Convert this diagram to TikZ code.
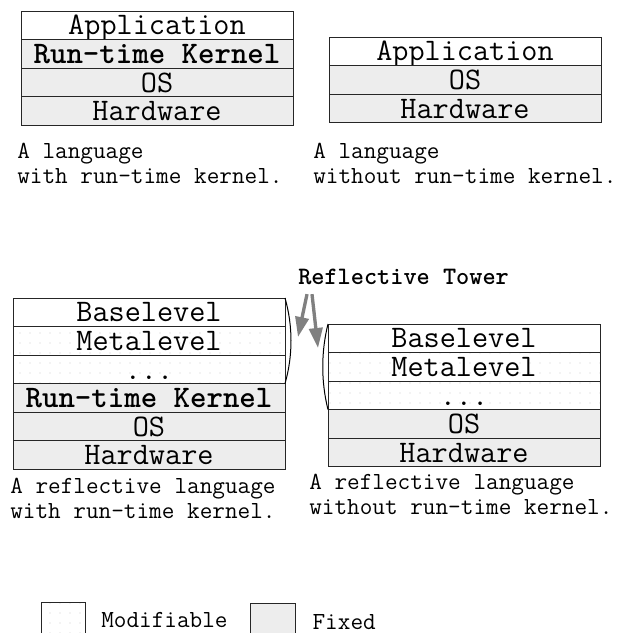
\documentclass[tikz,border=0pt]{standalone}
\usepackage{fontspec}
\usepackage{tikz}
\usetikzlibrary{arrows.meta}
\usetikzlibrary{positioning, patterns.meta}
\definecolor{fixgray}{RGB}{237,237,237}
\definecolor{arrowgray}{RGB}{128,128,128}

\begin{document}
\begin{tikzpicture}[x=0.75pt, y=0.75pt,
    couche/.style={draw=black!85, line width=0.75pt, minimum width=204pt,
      minimum height=21.4pt, inner sep=0pt, outer sep=0pt,
      text height=15.5pt, text depth=1pt,
      font=\ttfamily\fontsize{23.5}{24}\selectfont},
    fixe/.style={fill=fixgray},
    modif/.style={pattern={Dots[radius=0.35pt, distance=7.5pt]}, pattern color=black!55},
    legende/.style={align=left, inner sep=0pt, font=\ttfamily\fontsize{18.4}{18.8}\selectfont},
    fleche/.style={draw=arrowgray, line width=2.5pt, -{Triangle[length=15pt, width=10pt]}}]
    % Cadre de la page
    \clip (0,0) rectangle (628,-633);

    % Langage avec noyau
    \node[couche, anchor=north west] (a1) at (21,-11) {Application};
    \node[couche, fixe, below=0pt of a1] (a2) {\bfseries Run-time Kernel};
    \node[couche, fixe, below=0pt of a2] (a3) {OS};
    \node[couche, fixe, below=0pt of a3] (a4) {Hardware};
    \node[legende, anchor=north west] (ca) at (17,-143) {A language\\with run-time kernel.};

    % Langage sans noyau
    \node[couche, anchor=north west] (b1) at (329,-37) {Application};
    \node[couche, fixe, below=0pt of b1] (b2) {OS};
    \node[couche, fixe, below=0pt of b2] (b3) {Hardware};
    \node[legende, anchor=north west] (cb) at (313,-143) {A language\\without run-time kernel.};

    % Langage reflexif avec noyau
    \node[couche, anchor=north west] (c1) at (13,-298) {Baselevel};
    \node[couche, modif, below=0pt of c1] (c2) {Metalevel};
    \node[couche, modif, below=0pt of c2] (c3) {...};
    \node[couche, fixe, below=0pt of c3] (c4) {\bfseries Run-time Kernel};
    \node[couche, fixe, below=0pt of c4] (c5) {OS};
    \node[couche, fixe, below=0pt of c5] (c6) {Hardware};
    \node[legende, anchor=north west] (cc) at (10,-478) {A reflective language\\with run-time kernel.};

    % Langage reflexif sans noyau
    \node[couche, anchor=north west] (d1) at (328,-324) {Baselevel};
    \node[couche, modif, below=0pt of d1] (d2) {Metalevel};
    \node[couche, modif, below=0pt of d2] (d3) {...};
    \node[couche, fixe, below=0pt of d3] (d4) {OS};
    \node[couche, fixe, below=0pt of d4] (d5) {Hardware};
    \node[legende, anchor=north west] (cd) at (309,-474) {A reflective language\\without run-time kernel.};

    % Tour reflexive
    \draw[line width=0.75pt] (c1.north east) .. controls +(8,-28) and +(8,28) .. (c3.south east);
    \draw[line width=0.75pt] (d1.north west) .. controls +(-7,-28) and +(-7,28) .. (d3.south west);
    \node[legende, font=\ttfamily\bfseries\fontsize{18.8}{19}\selectfont, anchor=west] (tour) at (298,-277) {Reflective Tower};
    \coordinate (pointeG) at (298,-337);
    \coordinate (pointeD) at (318,-348);
    \draw[fleche] ([shift={(9,-9)}]tour.south west) -- (pointeG);
    \draw[fleche] ([shift={(14,-9)}]tour.south west) -- (pointeD);

    % Legende
    \node[draw=black!85, line width=0.75pt, modif, minimum size=33pt, anchor=north west] (lm) at (41,-602) {};
    \node[legende, anchor=base west] (tm) at ([shift={(15,-25)}]lm.north east) {Modifiable};
    \node[draw=black!85, line width=0.75pt, fixe, minimum size=34pt, anchor=north west] (lf) at (250,-603) {};
    \node[legende, anchor=base west] (tf) at ([shift={(16,-26)}]lf.north east) {Fixed};

\end{tikzpicture}
\end{document}
